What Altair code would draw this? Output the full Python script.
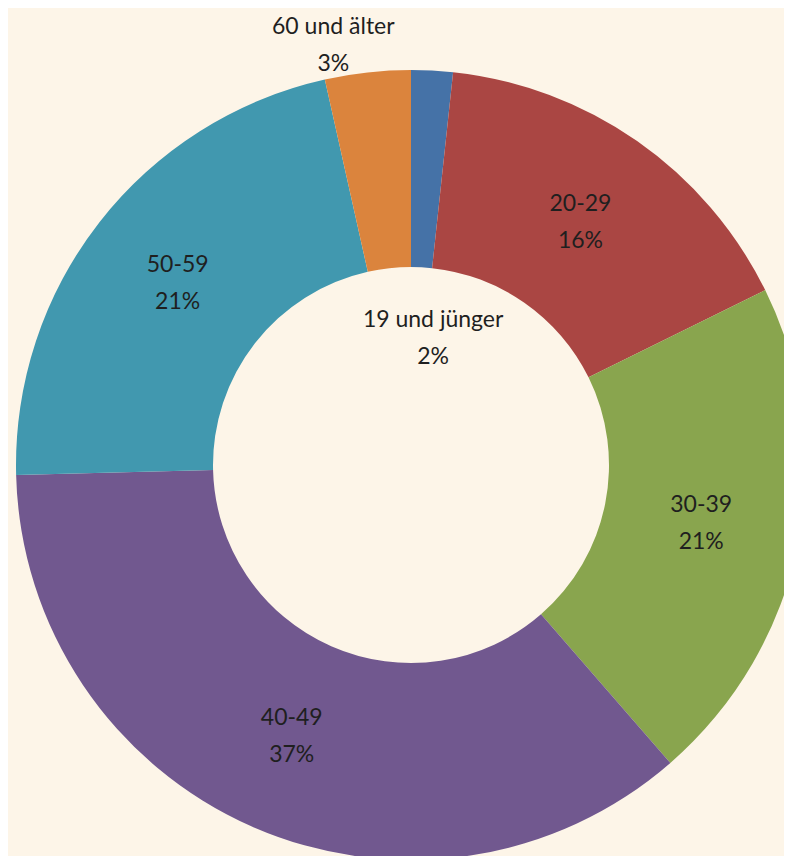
import altair as alt
import pandas as pd

categories = ["19 und jünger", "20-29", "30-39", "40-49", "50-59", "60 und älter"]
shares = [1.7, 16.0, 20.9, 36.0, 21.9, 3.5]
pct_labels = ["2%", "16%", "21%", "37%", "21%", "3%"]
colors = ["#4572A7", "#AA4643", "#89A54E", "#71588F", "#4198AF", "#DB843D"]

df = pd.DataFrame({
    "cat": categories,
    "share": shares,
    "idx": list(range(len(categories))),
    "label": [c + "\n" + p for c, p in zip(categories, pct_labels)],
})

cx, cy = 403, 457

base = alt.Chart(df).encode(
    theta=alt.Theta("share:Q", stack=True),
    order=alt.Order("idx:O"),
    x=alt.value(cx),
    y=alt.value(cy),
)

arcs = base.mark_arc(outerRadius=395, innerRadius=198).encode(
    color=alt.Color("cat:N", scale=alt.Scale(domain=categories, range=colors), legend=None)
)

mid_cats = categories[1:5]
txt_style = dict(font="Lato", fontSize=23, color="#1F1F1F", lineBreak="\n",
                 lineHeight=37, align="center", baseline="middle", dy=-18)

mid_text = base.mark_text(radius=296, **txt_style).encode(
    text=alt.condition(alt.FieldOneOfPredicate(field="cat", oneOf=mid_cats),
                       alt.Text("label:N"), alt.value(""))
)
young_text = base.mark_text(radius=129, thetaOffset=0.119, **txt_style).encode(
    text=alt.condition(alt.FieldEqualPredicate(field="cat", equal=categories[0]),
                       alt.Text("label:N"), alt.value(""))
)
old_text = base.mark_text(radius=427, thetaOffset=-0.073, **txt_style).encode(
    text=alt.condition(alt.FieldEqualPredicate(field="cat", equal=categories[5]),
                       alt.Text("label:N"), alt.value(""))
)

chart = alt.layer(arcs, mid_text, young_text, old_text).properties(
    width=776, height=848, background="#FDF5E8", padding=0,
    autosize=alt.AutoSizeParams(type="none"),
).configure_view(stroke=None)

chart.save("out.html", embed_options={"renderer": "svg", "actions": False})
